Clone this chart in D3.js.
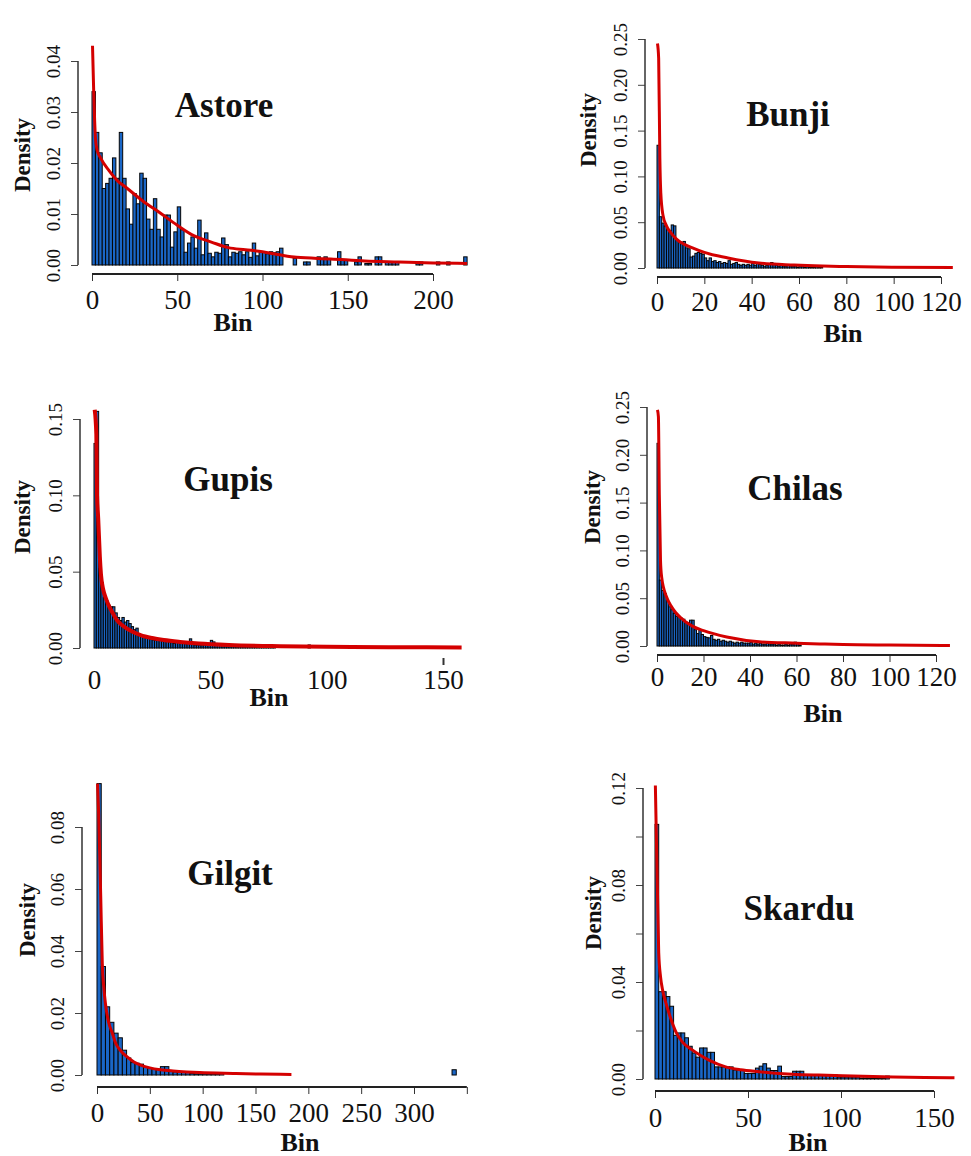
<!DOCTYPE html>
<html>
<head>
<meta charset="utf-8">
<script src="https://cdn.jsdelivr.net/npm/d3@7"></script>
<style>
  body { margin: 0; background: #fff; }
  svg { display: block; }
  text { font-family: "Liberation Serif", "Times New Roman", serif; fill: #111; }
</style>
</head>
<body>
<script>
// histogram densities (one value per bin)
var astoreDensity = [0.034, 0.026, 0.022, 0.015, 0.016, 0.017, 0.021, 0.017, 0.026, 0.017,
  0.011, 0.008, 0.014, 0.012, 0.018, 0.017, 0.009, 0.007, 0.013, 0.007,
  0.0055, 0.0098, 0.0098, 0.0035, 0.0065, 0.0114, 0.0069, 0.0025, 0.0043, 0.0055,
  0.0033, 0.0088, 0.002, 0.0063, 0.0023, 0.0016, 0.0025, 0.0023, 0.0053, 0.004,
  0.0016, 0.0025, 0.0023, 0.0026, 0.002, 0.0026, 0.0015, 0.0043, 0.0018, 0.0026,
  0.0026, 0.0022, 0.0026, 0.0024, 0.0026, 0.0033, 0, 0, 0, 0.0013,
  0, 0, 0.0006, 0.0006, 0, 0, 0.0016, 0.0011, 0.0016, 0.0011,
  0, 0, 0.0026, 0.0009, 0.0009, 0, 0, 0.0006, 0.0016, 0,
  0.0003, 0.0003, 0, 0.0016, 0.0016, 0, 0.0006, 0.0006, 0.0006, 0.0006,
  0, 0, 0, 0, 0, 0.0006, 0.0006, 0, 0, 0,
  0, 0.0006, 0, 0, 0.0006, 0, 0, 0, 0, 0.0016];

var bunjiDensity = [0.134, 0.056, 0.049, 0.046, 0.042, 0.041, 0.047, 0.046, 0.031, 0.029,
  0.028, 0.029, 0.022, 0.021, 0.012, 0.013, 0.016, 0.017, 0.016, 0.015,
  0.011, 0.008, 0.011, 0.007, 0.008, 0.006, 0.007, 0.005, 0.006, 0.005,
  0.008, 0.004, 0.005, 0.006, 0.004, 0.003, 0.004, 0.003, 0.004, 0.003,
  0.005, 0.003, 0.006, 0.004, 0.003, 0.002, 0.003, 0.004, 0.006, 0.005,
  0.003, 0.002, 0.003, 0.002, 0.002, 0.003, 0.002, 0.002, 0.002, 0.001,
  0.002, 0.002, 0.001, 0.002, 0.001, 0.001, 0.001, 0.002, 0.001, 0.001];

var gupisDensity = [0.134, 0.155, 0.052, 0.043, 0.033, 0.031, 0.028, 0.027, 0.027, 0.023,
  0.020, 0.018, 0.020, 0.017, 0.018, 0.016, 0.014, 0.012, 0.013, 0.0085,
  0.0078, 0.0075, 0.0065, 0.0075, 0.006, 0.0052, 0.005, 0.005, 0.006, 0.0045,
  0.0045, 0.005, 0.004, 0.0035, 0.003, 0.004, 0.0035, 0.003, 0.003, 0.0028,
  0.003, 0.006, 0.003, 0.002, 0.002, 0.002, 0.0015, 0.002, 0.002, 0.003,
  0.005, 0.004, 0.003, 0.002, 0.002, 0.002, 0.0015, 0.0015, 0.001, 0.001,
  0.001, 0.0015, 0.001, 0.001, 0.001, 0.0015, 0.001, 0.001, 0.001, 0.0008,
  0.001, 0.0008, 0.001, 0.0008, 0.0008, 0.001, 0.0008, 0.0008, 0, 0,
  0, 0, 0, 0, 0, 0, 0, 0, 0, 0,
  0, 0, 0.002];

var chilasDensity = [0.212, 0.069, 0.058, 0.055, 0.048, 0.041, 0.038, 0.034, 0.031, 0.031,
  0.029, 0.028, 0.025, 0.024, 0.027, 0.027, 0.017, 0.013, 0.017, 0.012,
  0.0098, 0.009, 0.0085, 0.011, 0.007, 0.006, 0.007, 0.005, 0.006, 0.005,
  0.004, 0.005, 0.004, 0.003, 0.004, 0.003, 0.004, 0.003, 0.003, 0.003,
  0.004, 0.002, 0.003, 0.002, 0.003, 0.002, 0.002, 0.003, 0.002, 0.002,
  0.002, 0.001, 0.002, 0.001, 0.001, 0.002, 0.001, 0.002, 0.002, 0.004,
  0.003, 0.001];

var gilgitDensity = [0.094, 0.035, 0.022, 0.017, 0.0135, 0.012, 0.008, 0.0055, 0.004, 0.0038,
  0.0035, 0.0027, 0.0022, 0.002, 0.0018, 0.0027, 0.0027, 0.0012, 0.001, 0.001,
  0.001, 0.0008, 0.0005, 0.0004, 0.0004, 0.0004, 0.0004, 0.0004, 0.0004, 0.0006,
  0, 0, 0, 0, 0, 0, 0, 0, 0, 0,
  0, 0, 0, 0, 0, 0, 0, 0, 0, 0,
  0, 0, 0, 0, 0, 0, 0, 0, 0, 0,
  0, 0, 0, 0, 0, 0, 0, 0, 0, 0,
  0, 0, 0, 0, 0, 0, 0, 0, 0, 0,
  0, 0, 0, 0, 0.0017];

var skarduDensity = [0.105, 0.036, 0.036, 0.034, 0.030, 0.018, 0.019, 0.019, 0.017, 0.0135,
  0.0107, 0.009, 0.0128, 0.0128, 0.011, 0.011, 0.005, 0.005, 0.005, 0.005,
  0.005, 0.0037, 0.0037, 0.0037, 0.0023, 0.0023, 0.0023, 0.0045, 0.0053, 0.0063,
  0.0045, 0.0035, 0.0035, 0.0053, 0.001, 0.001, 0.001, 0.0032, 0.0032, 0.0032,
  0.0015, 0.0015, 0.0015, 0.0015, 0.0017, 0.0017, 0.0017, 0.0017, 0.0017, 0.0008,
  0.0008, 0.0008, 0.0008, 0.0008, 0.0008, 0.0004, 0.0004, 0.0004, 0.0004, 0.0004,
  0.0004, 0.0004, 0.0012];

// fitted density curves, [bin, density] points
var astoreFit = [[0.3, 0.043], [1, 0.034], [2, 0.025], [3, 0.0225], [5, 0.021], [10, 0.0185],
  [15, 0.0165], [20, 0.0152], [30, 0.0125], [40, 0.0102], [50, 0.0078], [60, 0.0057],
  [70, 0.0045], [80, 0.0034], [90, 0.003], [100, 0.0026], [110, 0.002], [120, 0.0015],
  [140, 0.0012], [160, 0.0008], [180, 0.0006], [200, 0.0004], [220, 0.0003]];
var bunjiFit = [[0.2, 0.245], [0.7, 0.229], [1.2, 0.12], [1.6, 0.082], [2.5, 0.058], [4, 0.046],
  [6, 0.038], [8, 0.032], [10, 0.028], [15, 0.022], [20, 0.017], [30, 0.011], [43, 0.0055],
  [58, 0.0033], [70, 0.0022], [80, 0.0016], [100, 0.0009], [125, 0.0005]];
var gupisFit = [[0.3, 0.156], [1, 0.14], [1.3, 0.1], [1.8, 0.085], [2.5, 0.06], [3, 0.048],
  [4, 0.038], [5, 0.033], [6, 0.029], [8, 0.023], [10, 0.018], [12, 0.015], [15, 0.012],
  [20, 0.0085], [25, 0.0065], [30, 0.0052], [37, 0.004], [45, 0.003], [58, 0.002],
  [80, 0.0012], [100, 0.0008], [130, 0.0005], [158, 0.0004]];
var chilasFit = [[0.2, 0.247], [0.6, 0.24], [1, 0.158], [1.5, 0.09], [2, 0.072], [4, 0.052],
  [6, 0.042], [8, 0.035], [10, 0.03], [15, 0.021], [20, 0.016], [30, 0.0094], [45, 0.0042],
  [60, 0.003], [70, 0.0022], [80, 0.0015], [100, 0.001], [126, 0.0006]];
var gilgitFit = [[0.5, 0.094], [1.5, 0.085], [2.5, 0.072], [3.5, 0.058], [5, 0.036], [6.5, 0.028],
  [8, 0.023], [11, 0.017], [14.5, 0.0135], [18, 0.01], [22, 0.008], [28, 0.006], [35, 0.0042],
  [42, 0.0031], [50, 0.0023], [60, 0.0017], [72, 0.0013], [85, 0.001], [97, 0.0008],
  [129, 0.0005], [155, 0.0003], [184, 0.0002]];
var skarduFit = [[0.2, 0.121], [0.6, 0.105], [1, 0.09], [1.5, 0.07], [2, 0.052], [3, 0.042],
  [4, 0.037], [6, 0.031], [8, 0.026], [11.5, 0.019], [15, 0.015], [20, 0.012], [25, 0.0095],
  [29, 0.0078], [38, 0.005], [46, 0.0038], [56, 0.003], [65, 0.0024], [74, 0.002],
  [88, 0.0016], [101, 0.0013], [128, 0.0008], [145, 0.0006], [161, 0.0005]];

// ticks
var astoreXTicks = [0, 50, 100, 150, 200];
var astoreYTicks = [0, 0.01, 0.02, 0.03, 0.04];
var bunjiXTicks = [0, 20, 40, 60, 80, 100, 120];
var bunjiYTicks = [0, 0.05, 0.10, 0.15, 0.20, 0.25];
var gupisXTicks = [0, 50, 100, 150];
var gupisYTicks = [0, 0.05, 0.10, 0.15];
var chilasXTicks = [0, 20, 40, 60, 80, 100, 120];
var chilasYTicks = [0, 0.05, 0.10, 0.15, 0.20, 0.25];
var gilgitXTicks = [0, 50, 100, 150, 200, 250, 300, 350];
var gilgitXLabels = [0, 50, 100, 150, 200, 250, 300];
var gilgitYTicks = [0, 0.02, 0.04, 0.06, 0.08];
var skarduXTicks = [0, 50, 100, 150];
var skarduYTicks = [0, 0.02, 0.04, 0.06, 0.08, 0.10, 0.12];
var skarduYLabels = [0, 0.04, 0.08, 0.12];

var w = 971;
var h = 1156;

var svg = d3.select("body").append("svg")
    .attr("width", w)
    .attr("height", h);

svg.append("rect").attr("width", w).attr("height", h).attr("fill", "#fff");

// layout of each panel (pixel placement only)
var panels = [
  {name: "Astore", density: astoreDensity, bw: 2, fit: astoreFit, xt: astoreXTicks, yt: astoreYTicks,
   x0: 92, x1: 433, y0: 265, y1: 61, axX: 78, axY: 274, pad: 9, lw: 3,
   title: [224, 117], bin: [233, 331], dens: [22, 155]},
  {name: "Bunji", density: bunjiDensity, bw: 1, fit: bunjiFit, xt: bunjiXTicks, yt: bunjiYTicks,
   x0: 657, x1: 941, y0: 268, y1: 39, axX: 645, axY: 277, pad: 8, lw: 3,
   title: [788, 126], bin: [843, 342], dens: [588, 130]},
  {name: "Gupis", density: gupisDensity, bw: 1, fit: gupisFit, xt: gupisXTicks, yt: gupisYTicks,
   x0: 94, x1: 443, y0: 648, y1: 419, axX: 80, axY: 658, pad: 5, lw: 4, noXLine: true,
   title: [228, 491], bin: [269, 706], dens: [22, 517]},
  {name: "Chilas", density: chilasDensity, bw: 1, fit: chilasFit, xt: chilasXTicks, yt: chilasYTicks,
   x0: 657, x1: 936, y0: 646, y1: 407, axX: 647, axY: 655, pad: 5, lw: 3,
   title: [795, 500], bin: [823, 722], dens: [592, 507]},
  {name: "Gilgit", density: gilgitDensity, bw: 4, fit: gilgitFit, xt: gilgitXTicks, yt: gilgitYTicks,
   xl: gilgitXLabels, x0: 97, x1: 414, xRef: 300, y0: 1075, y1: 827, axX: 82, axY: 1087, pad: 9, lw: 3,
   title: [230, 885], bin: [300, 1151], dens: [27, 920]},
  {name: "Skardu", density: skarduDensity, bw: 2, fit: skarduFit, xt: skarduXTicks, yt: skarduYTicks,
   yl: skarduYLabels, x0: 655, x1: 934, y0: 1079, y1: 788, axX: 643, axY: 1091, pad: 10, lw: 3,
   title: [799, 920], bin: [808, 1151], dens: [593, 913]}
];

panels.forEach(function(p) {
  var xRef = p.xRef || p.xt[p.xt.length - 1];
  var yRef = p.yt[p.yt.length - 1];
  var x = d3.scaleLinear().domain([0, xRef]).range([p.x0, p.x1]);
  var y = d3.scaleLinear().domain([0, yRef]).range([p.y0, p.y1]);
  var g = svg.append("g").attr("class", "panel");

  // bars
  var bins = p.density.map(function(d, i) {
    return {lo: i * p.bw, hi: (i + 1) * p.bw, d: d};
  }).filter(function(b) { return b.d > 0; });

  g.selectAll(".bar")
      .data(bins)
      .enter()
      .append("rect")
      .attr("class", "bar")
      .attr("x", function(b) { return x(b.lo); })
      .attr("width", function(b) { return x(b.hi) - x(b.lo); })
      .attr("y", function(b) { return y(b.d); })
      .attr("height", function(b) { return y(0) - y(b.d); })
      .attr("fill", "#1a66c6")
      .attr("stroke", "#050505")
      .attr("stroke-width", 1);

  // fitted curve
  var line = d3.line()
      .x(function(d) { return x(d[0]); })
      .y(function(d) { return y(d[1]); })
      .curve(d3.curveMonotoneX);

  g.append("path")
      .datum(p.fit)
      .attr("d", line)
      .attr("fill", "none")
      .attr("stroke", "#d40000")
      .attr("stroke-width", p.lw);

  // y axis
  var yAxis = d3.axisLeft(y)
      .tickValues(p.yt)
      .tickSize(7)
      .tickSizeOuter(0)
      .tickFormat(function(v) {
        if (p.yl && p.yl.indexOf(v) < 0) return "";
        return d3.format(".2f")(v);
      });

  var ya = g.append("g")
      .attr("transform", "translate(" + p.axX + ",0)")
      .call(yAxis);
  ya.select(".domain").remove();
  ya.append("line")
      .attr("y1", y(p.yt[0])).attr("y2", y(yRef))
      .attr("stroke", "#333").attr("stroke-width", 1.5);
  ya.selectAll(".tick line").attr("stroke", "#444");
  ya.selectAll(".tick text")
      .attr("font-family", '"Liberation Serif", "Times New Roman", serif')
      .attr("font-size", 19)
      .attr("fill", "#222")
      .attr("text-anchor", "middle")
      .attr("transform", "rotate(-90)")
      .attr("x", 0)
      .attr("y", -25)
      .attr("dy", "0.35em");

  // x axis
  var xAxis = d3.axisBottom(x)
      .tickValues(p.xt)
      .tickSize(7)
      .tickSizeOuter(0)
      .tickPadding(p.pad)
      .tickFormat(function(v) {
        if (p.xl && p.xl.indexOf(v) < 0) return "";
        return v;
      });

  var xa = g.append("g")
      .attr("transform", "translate(0," + p.axY + ")")
      .call(xAxis);
  xa.select(".domain").remove();
  if (!p.noXLine) {
    xa.append("line")
        .attr("x1", x(p.xt[0])).attr("x2", x(p.xt[p.xt.length - 1]))
        .attr("stroke", "#222").attr("stroke-width", 2);
  } else {
    xa.selectAll(".tick line").attr("stroke-width", function(d) { return d === 150 ? 2 : 0; });
  }
  xa.selectAll(".tick line").attr("stroke", "#333");
  xa.selectAll(".tick text")
      .attr("font-family", '"Liberation Serif", "Times New Roman", serif')
      .attr("font-size", 27)
      .attr("fill", "#111");

  // labels
  g.append("text")
      .attr("x", p.title[0])
      .attr("y", p.title[1])
      .attr("text-anchor", "middle")
      .attr("font-size", 35)
      .attr("font-weight", "bold")
      .text(p.name);

  g.append("text")
      .attr("x", p.bin[0])
      .attr("y", p.bin[1])
      .attr("text-anchor", "middle")
      .attr("font-size", 26)
      .attr("font-weight", "bold")
      .text("Bin");

  g.append("text")
      .attr("transform", "translate(" + p.dens[0] + "," + p.dens[1] + ") rotate(-90)")
      .attr("text-anchor", "middle")
      .attr("dy", "0.35em")
      .attr("font-size", 23)
      .attr("font-weight", "bold")
      .text("Density");
});
</script>
</body>
</html>
